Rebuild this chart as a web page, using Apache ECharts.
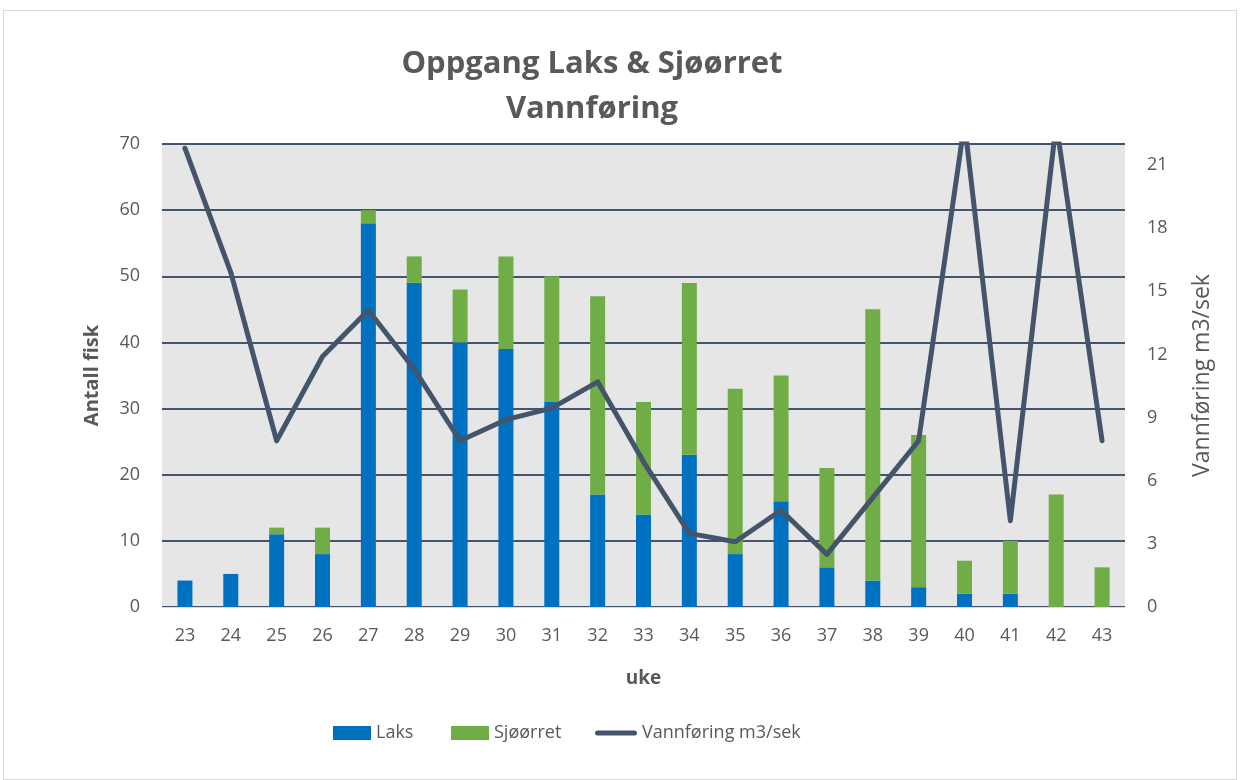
<!DOCTYPE html>
<html><head><meta charset="utf-8">
<script src="https://cdn.jsdelivr.net/npm/echarts@6/dist/echarts.min.js"></script>
<style>
html,body{margin:0;padding:0;background:#fff;}
#frame{position:absolute;left:3px;top:10px;width:1234px;height:770px;border:1px solid #d9d9d9;box-sizing:border-box;}
#c{position:absolute;left:0;top:0;width:1240px;height:780px;}
</style></head>
<body><div id="frame"></div><div id="c"></div>
<script>
const weeks = ['23','24','25','26','27','28','29','30','31','32','33','34','35','36','37','38','39','40','41','42','43'];
const laks = [4,5,11,8,58,49,40,39,31,17,14,23,8,16,6,4,3,2,2,0,0];
const sjoorret = [0,0,1,4,2,4,8,14,19,30,17,26,25,19,15,41,23,5,8,17,6];
const vannforing = [21.8,15.9,7.9,11.9,14.1,11.3,7.9,8.9,9.45,10.7,6.9,3.5,3.1,4.6,2.5,5.2,7.9,23,4.1,23,7.9];
const leftTicks = {min:0,max:70,interval:10};
const rightTicks = {min:0,max:22,interval:3};

const font = '"Open Sans", "Liberation Sans", sans-serif';
const grey = '#595959';
const lineIcon = 'path://M2.5,0 h37 a2.5,2.5 0 0 1 0,5 h-37 a2.5,2.5 0 0 1 0,-5 z';
const legendBase = {top:724, padding:0, itemWidth:38, itemHeight:14, textStyle:{fontFamily:font,fontSize:18,color:grey}};
const chart = echarts.init(document.getElementById('c'), null, {renderer:'canvas'});
chart.setOption({
  animation:false,
  textStyle:{fontFamily:font},
  title:{text:'Oppgang Laks & Sjøørret\nVannføring', left:587, top:37, textAlign:'center',
    textStyle:{fontFamily:font,fontSize:31,fontWeight:'bold',color:grey,lineHeight:45}},
  legend:[
    Object.assign({left:333, data:[{name:'Laks',icon:'rect'}]}, legendBase),
    Object.assign({left:451, data:[{name:'Sjøørret',icon:'rect'}]}, legendBase),
    Object.assign({left:595, data:[{name:'Vannføring m3/sek',icon:lineIcon}]}, legendBase, {itemWidth:42})
  ],
  grid:{left:162,right:115,top:144,bottom:173,show:true,backgroundColor:'#e7e6e6',borderWidth:0},
  xAxis:{type:'category',data:weeks,
    name:'uke',nameLocation:'middle',nameGap:62,
    nameTextStyle:{fontFamily:font,fontSize:19,fontWeight:'bold',color:grey},
    axisLine:{lineStyle:{color:'#d9d9d9',width:1}},axisTick:{show:false},
    axisLabel:{fontFamily:font,fontSize:18,color:grey,margin:20}},
  yAxis:[
    {type:'value',min:leftTicks.min,max:leftTicks.max,interval:leftTicks.interval,
     name:'Antall fisk',nameLocation:'middle',nameGap:60,nameRotate:90,
     nameTextStyle:{fontFamily:font,fontSize:20,fontWeight:'bold',color:grey},
     axisLine:{show:false},axisTick:{show:false},
     axisLabel:{fontFamily:font,fontSize:18,color:grey,margin:22},
     splitLine:{lineStyle:{color:'#44546a',width:2}}},
    {type:'value',min:rightTicks.min,max:rightTicks.max,interval:rightTicks.interval,
     name:'Vannføring m3/sek',nameLocation:'middle',nameGap:66,nameRotate:90,
     nameTextStyle:{fontFamily:font,fontSize:23,color:grey},
     axisLine:{show:false},axisTick:{show:false},
     axisLabel:{fontFamily:font,fontSize:18,color:grey,margin:22,showMaxLabel:false},
     splitLine:{show:false}}
  ],
  series:[
    {name:'Laks',type:'bar',stack:'fisk',data:laks,barWidth:15,itemStyle:{color:'#0070c0'}},
    {name:'Sjøørret',type:'bar',stack:'fisk',data:sjoorret,barWidth:15,itemStyle:{color:'#70ad47'}},
    {name:'Vannføring m3/sek',type:'line',yAxisIndex:1,data:vannforing,symbol:'none',clip:true,
     lineStyle:{color:'#44546a',width:5,cap:'round',join:'round'},itemStyle:{color:'#44546a'}}
  ]
});
</script></body></html>
